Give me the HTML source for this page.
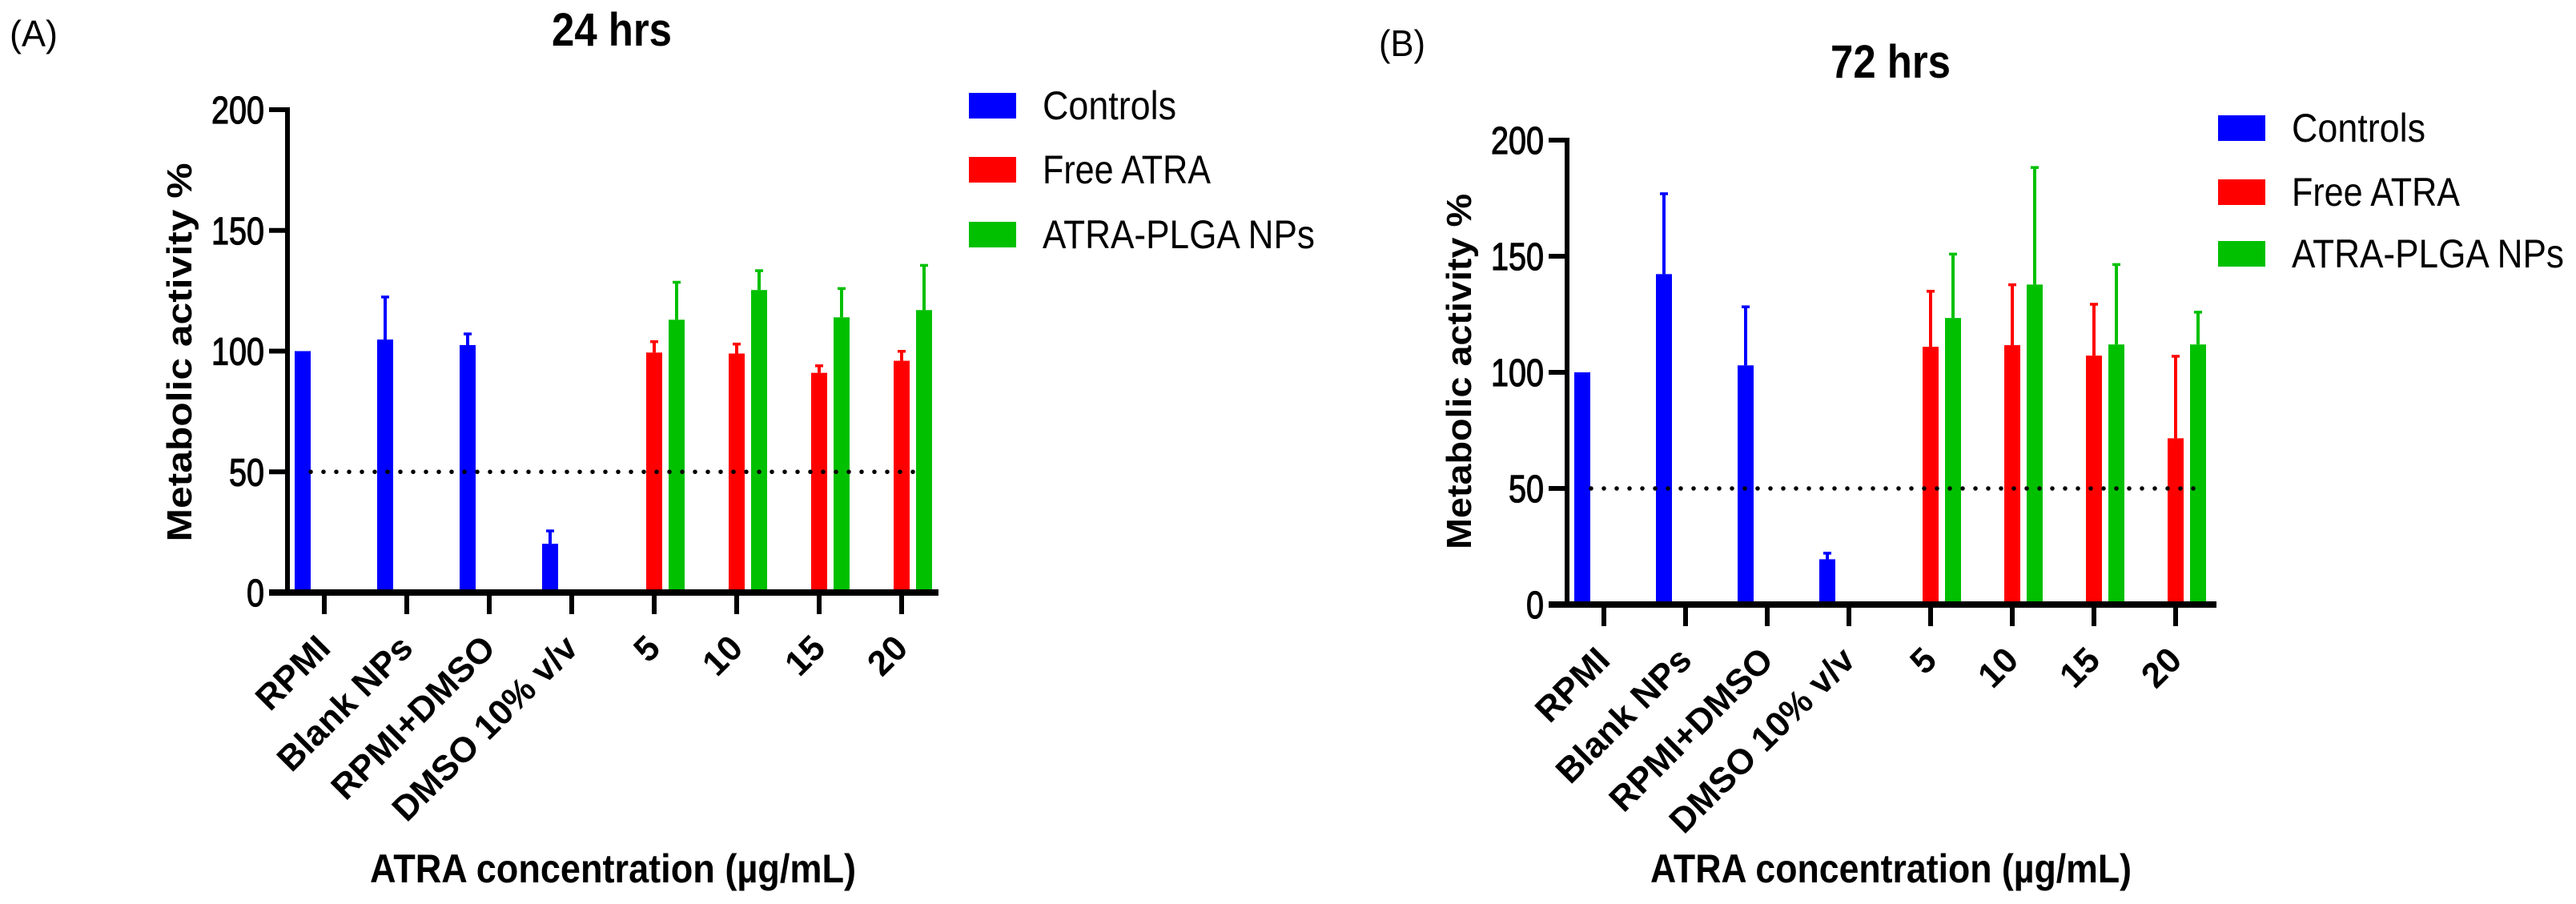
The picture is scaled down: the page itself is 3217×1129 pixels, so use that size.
<!DOCTYPE html>
<html><head><meta charset="utf-8"><style>html,body{margin:0;padding:0;background:#fff}svg{display:block}</style></head>
<body>
<svg id="fig" width="3217" height="1129" viewBox="0 0 3217 1129" xmlns="http://www.w3.org/2000/svg" font-family="Liberation Sans, Arial, sans-serif"></svg>
<script>
const categories = ["RPMI","Blank NPs","RPMI+DMSO","DMSO 10% v/v","5","10","15","20"];
const yTicks = [0,50,100,150,200];
const seriesNames = ["Controls","Free ATRA","ATRA-PLGA NPs"];
const seriesColors = ["#0000ff","#ff0000","#00c000"];
// 24 hrs
const a_controls = [100,104.8,102.5,20.2];
const a_controlsErr = [100,122.5,107.2,25.6];
const a_free = [99.4,99,91,96];
const a_freeErr = [104,103,94,100];
const a_nps = [113,125.3,114,117];
const a_npsErr = [128.6,133.4,126,135.6];
// 72 hrs
const b_controls = [100,142.3,103,19.5];
const b_controlsErr = [100,177,128.3,22.2];
const b_free = [111,111.7,107.2,71.6];
const b_freeErr = [135,137.8,129.4,107];
const b_nps = [123.4,137.8,112,112];
const b_npsErr = [151,188.3,146.5,126];
const threshold = 50;

const svg = document.getElementById('fig');
const NS = 'http://www.w3.org/2000/svg';
function el(tag, attrs, parent){const e=document.createElementNS(NS,tag);for(const k in attrs)e.setAttribute(k,attrs[k]);(parent||svg).appendChild(e);return e;}

function panel(cfg){
  const g = el('g',{});
  
  
  const y = v => cfg.y0 - (v/200)*(cfg.y0-cfg.y200);
  const tickX = i => cfg.t0 + i*cfg.dt;
  const pl = el('text',{x:cfg.plx,y:cfg.ply,'font-size':46,'textLength':cfg.plw,'lengthAdjust':'spacingAndGlyphs'},g);
  pl.textContent = cfg.plabel;
  
  
  const t = el('text',{x:cfg.tx,y:cfg.ty,'font-size':58,'font-weight':'bold','textLength':cfg.tw,'lengthAdjust':'spacingAndGlyphs'},g);
  t.textContent = cfg.title;
  
  
  const groups = [[cfg.controls,cfg.controlsErr,0,-27,[0,1,2,3]],[cfg.free,cfg.freeErr,1,0,[4,5,6,7]],[cfg.nps,cfg.npsErr,2,28,[4,5,6,7]]];
  groups.forEach(([vals,errs,si,off,idx])=>{
    vals.forEach((v,k)=>{
      const cx = tickX(idx[k])+off;
      const col = seriesColors[si];
      if(errs[k]>v){
        const l = el('rect',{x:cx-2,y:y(errs[k]),width:4,height:y(v)-y(errs[k]),fill:col},g);
        
        
        const c = el('rect',{x:cx-5,y:y(errs[k])-1.5,width:10,height:3.5,fill:col},g);
        
        
      }
      const b = el('rect',{x:cx-10,y:y(v),width:20,height:y(0)-y(v),fill:col},g);
      
      
    });
  });
  const d = el('line',{x1:cfg.dx1,x2:cfg.dx2,y1:y(threshold),y2:y(threshold),stroke:'#000','stroke-width':5.5,'stroke-linecap':'round','stroke-dasharray':'0 16'},g);
  
  
  const ya = el('rect',{x:cfg.ax-3,y:y(200)-3,width:6,height:y(0)-y(200)+6,fill:'#000'},g);
  
  
  yTicks.forEach(v=>{
    const tk = el('rect',{x:cfg.ax-23,y:y(v)-3,width:23,height:6,fill:'#000'},g);
    
    
    const s=String(v);
    const lb = el('text',{x:cfg.ax-29,y:y(v)+17,'font-size':48,'text-anchor':'end','stroke':'#000','stroke-width':1.2,'textLength':s.length*22,'lengthAdjust':'spacingAndGlyphs'},g);
    lb.textContent = s;
    
    
  });
  const xa = el('rect',{x:cfg.ax-23,y:y(0)-4,width:cfg.xend-(cfg.ax-23),height:8,fill:'#000'},g);
  
  
  categories.forEach((c,i)=>{
    const tk = el('rect',{x:tickX(i)-3,y:y(0),width:6,height:27,fill:'#000'},g);
    
    
    const lx = tickX(i)+10, ly = y(0)+72;
    const lb = el('text',{x:lx,y:ly,'font-size':44,'font-weight':'bold','text-anchor':'end',transform:`rotate(-45 ${lx} ${ly})`},g);
    lb.textContent = c;
    
    
  });
  const yt = el('text',{x:0,y:0,'font-size':44,'font-weight':'bold','text-anchor':'middle','textLength':cfg.ytl,'lengthAdjust':'spacingAndGlyphs',transform:`translate(${cfg.ytx} ${cfg.yty}) rotate(-90)`},g);
  yt.textContent = 'Metabolic activity %';
  
  
  const xt = el('text',{x:cfg.xtx,y:1102,'font-size':50,'font-weight':'bold','textLength':cfg.xtw,'lengthAdjust':'spacingAndGlyphs'},g);
  xt.textContent = 'ATRA concentration (µg/mL)';
  
  
  seriesNames.forEach((n,i)=>{
    const sw = el('rect',{x:cfg.lgx,y:cfg.lgy[i],width:59,height:32,fill:seriesColors[i]},g);
    
    
    const lt = el('text',{x:cfg.lgx+92,y:cfg.lgy[i]+33,'font-size':50,'textLength':[167,210,340][i],'lengthAdjust':'spacingAndGlyphs'},g);
    lt.textContent = n;
    
    
  });
}

panel({id:'24h',title:'24 hrs',plabel:'(A)',plx:12,ply:58,plw:60,tx:689,ty:57,tw:150,
  y0:740,y200:137,ax:359,t0:405,dt:103,xend:1172,dx1:388,dx2:1150,
  controls:a_controls,controlsErr:a_controlsErr,free:a_free,freeErr:a_freeErr,nps:a_nps,npsErr:a_npsErr,
  ytx:239,yty:440,ytl:473,xtx:462,xtw:607,lgx:1210,lgy:[116,196,277]});
panel({id:'72h',title:'72 hrs',plabel:'(B)',plx:1722,ply:70,plw:58,tx:2286,ty:97,tw:150,
  y0:755,y200:175,ax:1957,t0:2003,dt:102,xend:2768,dx1:1987,dx2:2748,
  controls:b_controls,controlsErr:b_controlsErr,free:b_free,freeErr:b_freeErr,nps:b_nps,npsErr:b_npsErr,
  ytx:1837,yty:464,ytl:444,xtx:2061,xtw:601,lgx:2770,lgy:[144,224,301]});
</script>
</body></html>
